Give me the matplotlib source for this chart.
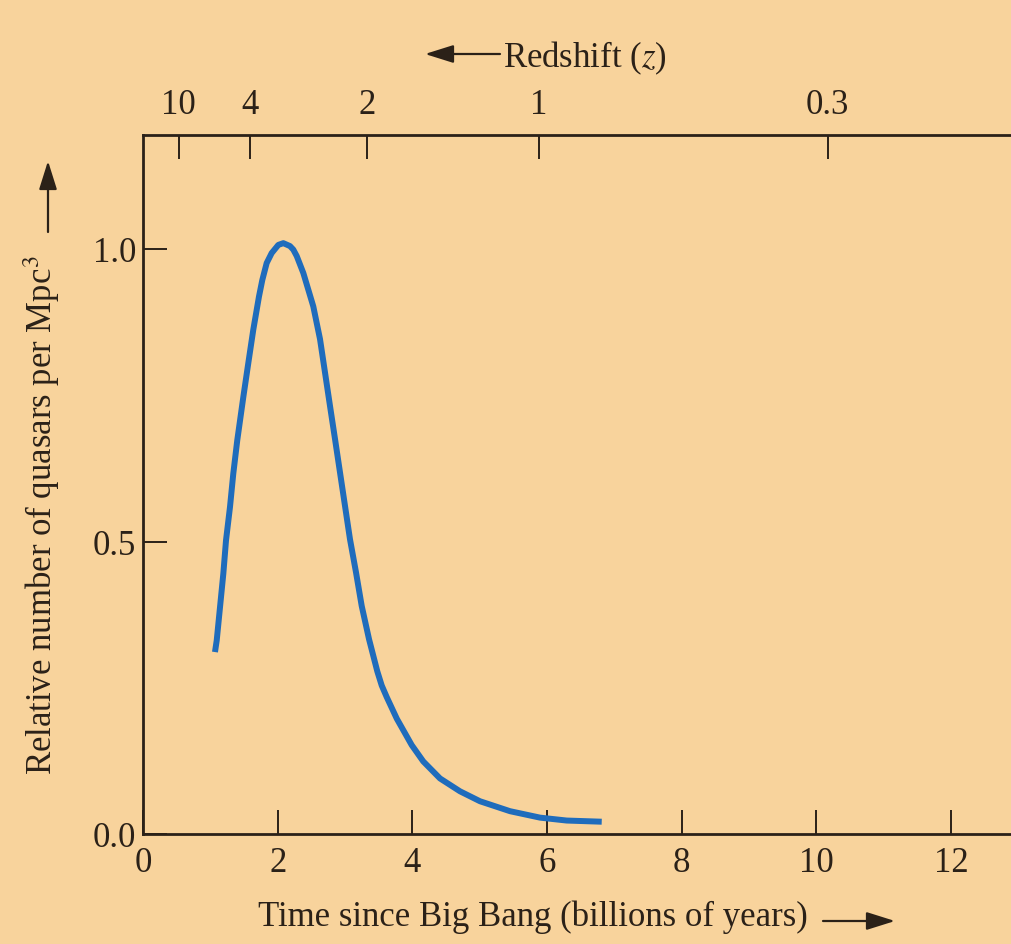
"""Relative number of quasars per Mpc^3 against time since the Big Bang."""

import matplotlib

matplotlib.use("Agg")
import matplotlib.pyplot as plt
from matplotlib.patches import FancyArrowPatch

# curve: time (Gyr) and relative quasar density
time_gyr = [1.069, 1.095, 1.144, 1.193, 1.233, 1.292, 1.341, 1.400, 1.490,
            1.564, 1.638, 1.723, 1.772, 1.837, 1.911, 2.010, 2.084, 2.183,
            2.232, 2.283, 2.381, 2.529, 2.629, 2.703, 2.777, 2.852, 2.926,
            3.000, 3.074, 3.164, 3.248, 3.357, 3.480, 3.545, 3.620, 3.770,
            3.991, 4.163, 4.411, 4.708, 5.005, 5.451, 5.896, 6.293, 6.813]
density = [0.311, 0.331, 0.388, 0.445, 0.502, 0.559, 0.616, 0.673, 0.747,
           0.805, 0.862, 0.919, 0.947, 0.976, 0.993, 1.007, 1.010, 1.005,
           0.999, 0.988, 0.959, 0.902, 0.846, 0.789, 0.732, 0.675, 0.618,
           0.561, 0.504, 0.447, 0.390, 0.333, 0.278, 0.254, 0.234, 0.197,
           0.152, 0.124, 0.095, 0.073, 0.056, 0.039, 0.028, 0.023, 0.021]

# bottom / left axes
time_ticks = [0, 2, 4, 6, 8, 10, 12]
density_ticks = [0.0, 0.5, 1.0]
density_labels = ["0.0", "0.5", "1.0"]

# top axis: redshift labels at their time positions
z_labels = ["10", "4", "2", "1", "0.3"]
z_times = [0.53, 1.59, 3.33, 5.88, 10.17]

BG = "#f8d39c"
INK = "#2b2118"
BLUE = "#1f6cbc"

plt.rcParams["font.family"] = ["Liberation Serif", "DejaVu Serif"]
plt.rcParams["mathtext.fontset"] = "stix"
plt.rcParams["font.size"] = 25

W, H = 1011, 945
fig = plt.figure(figsize=(W / 100, H / 100), dpi=100, facecolor=BG)

# axes box in pixels (left, right, top, bottom)
L, R, T, B = 143, 1011, 136, 835
ax = fig.add_axes([L / W, 1 - B / H, (R - L) / W, (B - T) / H])
ax.set_facecolor(BG)

ax.plot(time_gyr, density, color=BLUE, lw=4.3, solid_capstyle="butt",
        solid_joinstyle="round")

ax.set_xlim(0, (R - L) / 67.33)
ax.set_ylim(0, (B - T) / 585)
ax.set_xticks(time_ticks)
ax.set_yticks(density_ticks, density_labels)

for side in ("left", "bottom", "top"):
    ax.spines[side].set_linewidth(2.0)
    ax.spines[side].set_color(INK)
ax.spines["right"].set_visible(False)

ax.tick_params(axis="both", direction="in", length=17, width=1.4,
               color=INK, labelcolor=INK)
ax.tick_params(axis="x", pad=9)
ax.tick_params(axis="y", pad=5)

top = ax.twiny()
top.set_xlim(ax.get_xlim())
top.set_xticks(z_times, z_labels)
top.tick_params(axis="x", direction="in", length=17, width=1.4,
                color=INK, labelcolor=INK, pad=10)
for s in top.spines.values():
    s.set_visible(False)


def px(x, y):
    # pixel from the top-left corner -> figure fraction
    return x / W, 1 - y / H


fig.text(*px(258, 926), "Time since Big Bang (billions of years)",
         ha="left", va="baseline", color=INK)
fig.text(*px(503, 67), "Redshift ($z$)", ha="left", va="baseline", color=INK)
fig.text(*px(42, 515), "Relative number of quasars per Mpc$^3$",
         rotation=90, ha="center", va="center", color=INK)

arrow = dict(arrowstyle="-|>,head_length=0.7,head_width=0.22", lw=1.6,
             color=INK, shrinkA=0, shrinkB=0, mutation_scale=25)
for tail, head in [((823, 922), (895, 922)),
                   ((500, 55), (425, 55)),
                   ((48, 233), (48, 162))]:
    fig.add_artist(FancyArrowPatch(px(*tail), px(*head),
                                   transform=fig.transFigure, **arrow))

fig.savefig("out.png", dpi=100, facecolor=BG)
